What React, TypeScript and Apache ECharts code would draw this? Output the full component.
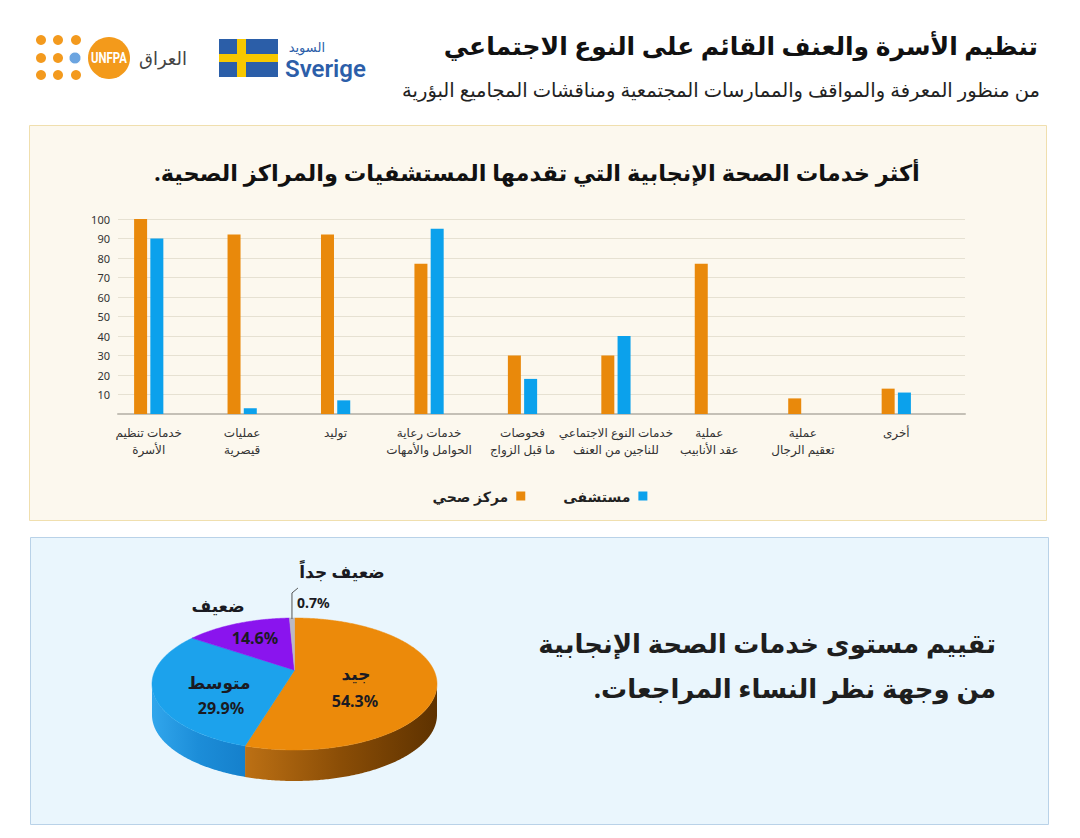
import React, { useEffect, useRef } from 'react';
import * as echarts from 'echarts';

// ---------- DATA ----------
const CATEGORIES = [
  'خدمات تنظيم\nالأسرة',
  'عمليات\nقيصرية',
  'توليد',
  'خدمات رعاية\nالحوامل والأمهات',
  'فحوصات\nما قبل الزواج',
  'خدمات النوع الاجتماعي\nللناجين من العنف',
  'عملية\nعقد الأنابيب',
  'عملية\nتعقيم الرجال',
  'أخرى',
];
const SERIES_CENTER_NAME = 'مركز صحي';
const SERIES_HOSPITAL_NAME = 'مستشفى';
const HEALTH_CENTER = [100, 92, 92, 77, 30, 30, 77, 8, 13];
const HOSPITAL = [90, 3, 7, 95, 18, 40, 0, 0, 11];
const Y_MIN = 0;
const Y_MAX = 100;
const Y_INTERVAL = 10;

const PIE_NAMES = ['جيد', 'متوسط', 'ضعيف', 'ضعيف جداً'];
const PIE_VALUES = [54.3, 29.9, 14.6, 0.7];

const TITLE = 'تنظيم الأسرة والعنف القائم على النوع الاجتماعي';
const SUBTITLE = 'من منظور المعرفة والمواقف والممارسات المجتمعية ومناقشات المجاميع البؤرية';
const BAR_TITLE = 'أكثر خدمات الصحة الإنجابية التي تقدمها المستشفيات والمراكز الصحية.';
const PIE_TEXT_1 = 'تقييم مستوى خدمات الصحة الإنجابية';
const PIE_TEXT_2 = 'من وجهة نظر النساء المراجعات.';

// ---------- STYLE / LAYOUT ----------
const FONT = "'Noto Sans', 'DejaVu Sans', sans-serif";
const RLM = '\u200F';
const rtl = (s: string) => s + RLM;
const ORANGE = '#E9890B';
const BLUE = '#0BA1EC';
const PIE_COLORS = ['#EC8A0A', '#1CA2EC', '#8A14EE', '#B9B9C4'];
const SIDE_GRADS = [
  ['#BC7014', '#8A4D06', '#5E3200'],
  ['#31A6EC', '#1C8DD8', '#1580CC'],
  ['#6A0DBA', '#6A0DBA', '#5A0AA0'],
  ['#999', '#999', '#888'],
];
const PIE_CX = 294.5;
const PIE_CY = 684;
const PIE_RX = 142.5;
const PIE_RY = 66;
const PIE_DEPTH = 31;
const PERSP = -0.21;
const PERSP_K = Math.sqrt(1 - PERSP * PERSP);

const LABEL_LAYOUT = [
  { name: [356, 673], pct: [355, 701], align: 'center' },
  { name: [219, 682], pct: [221, 708], align: 'center' },
  { name: [218, 605], pct: [255, 638], align: 'center' },
  { name: [342, 571], pct: [297, 602], align: 'left', leader: true },
];

const PIE_TOTAL = PIE_VALUES.reduce((a, b) => a + b, 0);
const PIE_CUM = PIE_VALUES.reduce((acc, v, i) => {
  acc.push((i ? acc[i - 1] : 0) + v);
  return acc;
}, [] as number[]);

function proj(theta: number, r: number) {
  const u = r * Math.sin(theta);
  const v = -r * Math.cos(theta);
  const d = 1 + PERSP * v;
  return [PIE_CX + (PIE_RX * PERSP_K * u) / d, PIE_CY + (PIE_RY * (v + PERSP)) / d];
}
function sliceAngles(i: number) {
  const s = ((PIE_CUM[i] - PIE_VALUES[i]) / PIE_TOTAL) * Math.PI * 2;
  const e = (PIE_CUM[i] / PIE_TOTAL) * Math.PI * 2;
  return [s, e];
}

function txt(x: number, y: number, text: string, font: string, fill: string, align: string, extra: any = {}) {
  return {
    type: 'text', x, y, ...extra,
    style: { text, fill, font, textAlign: align, textVerticalAlign: 'middle', align, verticalAlign: 'middle' },
  };
}

export default function App() {
  const ref = useRef<HTMLDivElement>(null);

  useEffect(() => {
    if (!ref.current) return;
    const chart = echarts.init(ref.current, null, { renderer: 'svg' });

    const frontA = Math.acos(PERSP);
    const frontLo = frontA;
    const frontHi = Math.PI * 2 - frontA;

    const pieData = PIE_VALUES.map((v, i) => ({ name: PIE_NAMES[i], value: v }));

    const option: any = {
      animation: false,
      backgroundColor: '#ffffff',
      textStyle: { fontFamily: FONT },
      graphic: [
        // panels
        {
          type: 'rect', z: -10,
          shape: { x: 29.5, y: 125.5, width: 1017, height: 395 },
          style: { fill: '#FCF8EE', stroke: '#F0DFAE', lineWidth: 1 },
        },
        {
          type: 'rect', z: -10,
          shape: { x: 30.5, y: 537.5, width: 1018, height: 287 },
          style: { fill: '#EAF6FD', stroke: '#B9D2E8', lineWidth: 1 },
        },
        // header titles
        txt(1038, 45, rtl(TITLE), `bold 25px ${FONT}`, '#111', 'right'),
        txt(1040, 89, rtl(SUBTITLE), `19.5px ${FONT}`, '#222', 'right'),
        // Sweden logo
        { type: 'rect', shape: { x: 219, y: 39, width: 59, height: 38 }, style: { fill: '#2B5EA8' } },
        { type: 'rect', shape: { x: 237, y: 39, width: 9, height: 38 }, style: { fill: '#F7C800' } },
        { type: 'rect', shape: { x: 219, y: 54, width: 59, height: 8 }, style: { fill: '#F7C800' } },
        txt(325, 47, 'السويد', `13px ${FONT}`, '#2C5EA9', 'right'),
        txt(285, 69, 'Sverige', `600 24px Roboto, ${FONT}`, '#2C5EA9', 'left'),
        // UNFPA logo
        ...[[41, 40], [58, 40], [76, 40], [41, 58], [58, 58], [41, 75], [58, 75], [76, 75]].map((p) => ({
          type: 'circle', shape: { cx: p[0], cy: p[1], r: 5 }, style: { fill: '#F39A1E' },
        })),
        { type: 'circle', shape: { cx: 75, cy: 58, r: 6 }, style: { fill: '#6BA4E0', stroke: '#ffffff', lineWidth: 1 } },
        { type: 'circle', shape: { cx: 109, cy: 58, r: 21 }, style: { fill: '#F39A1B' } },
        txt(109, 58, 'UNFPA', `bold 15px Roboto, ${FONT}`, '#ffffff', 'center', { scaleX: 0.76 }),
        txt(187, 58, 'العراق', `18px ${FONT}`, '#444', 'right'),
        // bar chart title
        txt(537, 172, rtl(BAR_TITLE), `bold 22.5px ${FONT}`, '#111', 'center'),
        // pie side text
        txt(996, 643, rtl(PIE_TEXT_1), `bold 26px ${FONT}`, '#1E1E1E', 'right'),
        txt(996, 688, rtl(PIE_TEXT_2), `bold 26px ${FONT}`, '#1E1E1E', 'right'),
      ],
      legend: {
        data: [SERIES_CENTER_NAME, SERIES_HOSPITAL_NAME],
        left: 'center',
        top: 484,
        align: 'right',
        icon: 'rect',
        itemWidth: 9,
        itemHeight: 9,
        itemGap: 38,
        textStyle: { fontFamily: FONT, fontSize: 14, fontWeight: 'bold', color: '#222', padding: [0, 3, 0, 0] },
      },
      grid: [
        { left: 118, width: 847, top: 219, height: 195 },
        { left: 102, width: 841, top: 219, height: 195 },
      ],
      xAxis: [
        {
          gridIndex: 0, type: 'category', data: CATEGORIES,
          axisLine: { show: true, lineStyle: { color: '#C4C0B6', width: 2 } },
          axisTick: { show: false }, axisLabel: { show: false }, splitLine: { show: false },
        },
        {
          gridIndex: 1, type: 'category', data: CATEGORIES,
          axisLine: { show: false }, axisTick: { show: false },
          axisLabel: { fontFamily: FONT, fontSize: 12, color: '#333', lineHeight: 17, margin: 10, interval: 0 },
        },
      ],
      yAxis: [
        {
          gridIndex: 0, type: 'value', min: Y_MIN, max: Y_MAX, interval: Y_INTERVAL,
          axisLine: { show: false }, axisTick: { show: false },
          axisLabel: { fontFamily: FONT, fontSize: 11, color: '#333', margin: 8, formatter: (v: number) => (v === 0 ? '' : String(v)) },
          splitLine: { show: true, lineStyle: { color: '#E6E1D2', width: 1 } },
        },
        {
          gridIndex: 1, type: 'value', min: Y_MIN, max: Y_MAX, interval: Y_INTERVAL,
          show: false, splitLine: { show: false },
        },
      ],
      series: [
        {
          name: SERIES_CENTER_NAME, type: 'bar', xAxisIndex: 1, yAxisIndex: 1,
          data: HEALTH_CENTER, barWidth: 13, barGap: '25%', itemStyle: { color: ORANGE },
        },
        {
          name: SERIES_HOSPITAL_NAME, type: 'bar', xAxisIndex: 1, yAxisIndex: 1,
          data: HOSPITAL, barWidth: 13, barGap: '25%', itemStyle: { color: BLUE },
        },
        // pie sides
        {
          type: 'custom', coordinateSystem: 'none', z: 5, silent: true,
          data: pieData,
          renderItem: (params: any) => {
            const i = params.dataIndex;
            const [s, e] = sliceAngles(i);
            const lo = Math.max(s, frontLo);
            const hi = Math.min(e, frontHi);
            if (lo >= hi) return { type: 'group', children: [] };
            const n = Math.max(2, Math.ceil((hi - lo) / 0.01));
            const top: number[][] = [];
            for (let k = 0; k <= n; k++) top.push(proj(lo + ((hi - lo) * k) / n, 1));
            const bottom = top.map((p) => [p[0], p[1] + PIE_DEPTH]).reverse();
            const xs = top.map((p) => p[0]);
            const x0 = Math.min(...xs);
            const x1 = Math.max(...xs);
            const g = SIDE_GRADS[i];
            return {
              type: 'polygon',
              shape: { points: top.concat(bottom) },
              style: {
                fill: new echarts.graphic.LinearGradient(x0, 0, x1, 0, [
                  { offset: 0, color: g[0] },
                  { offset: 0.5, color: g[1] },
                  { offset: 1, color: g[2] },
                ], true),
                stroke: null,
              },
            };
          },
        },
        // pie tops
        {
          type: 'custom', coordinateSystem: 'none', z: 6, silent: true,
          data: pieData,
          renderItem: (params: any) => {
            const i = params.dataIndex;
            const [s, e] = sliceAngles(i);
            const n = Math.max(2, Math.ceil((e - s) / 0.01));
            const pts: number[][] = [proj(0, 0)];
            for (let k = 0; k <= n; k++) pts.push(proj(s + ((e - s) * k) / n, 1));
            return {
              type: 'polygon',
              shape: { points: pts },
              style: { fill: PIE_COLORS[i], stroke: PIE_COLORS[i], lineWidth: 0.5 },
            };
          },
        },
        // pie labels
        {
          type: 'custom', coordinateSystem: 'none', z: 7, silent: true,
          data: pieData,
          renderItem: (params: any, api: any) => {
            const i = params.dataIndex;
            const L = LABEL_LAYOUT[i];
            const pctText = Number(api.value(0)).toFixed(1) + '%';
            const small = i === 3;
            const children: any[] = [
              txt(L.name[0], L.name[1], PIE_NAMES[i], `bold 17px ${FONT}`, '#1A1A22', 'center'),
              txt(L.pct[0], L.pct[1], pctText, `bold ${small ? 14 : 16}px ${FONT}`, '#1A1A22', L.align),
            ];
            if (L.leader) {
              const [s, e] = sliceAngles(i);
              const p = proj((s + e) / 2, 1);
              children.push({
                type: 'polyline',
                shape: { points: [[p[0], p[1] + 1], [p[0], 593], [p[0] + 6, 588]] },
                style: { stroke: '#555', lineWidth: 1, fill: null },
              });
            }
            return { type: 'group', children };
          },
        },
      ],
    };

    chart.setOption(option);
    return () => chart.dispose();
  }, []);

  return (
    <div
      ref={ref}
      style={{ position: 'absolute', left: 0, top: 0, width: 1080, height: 838 }}
    />
  );
}
